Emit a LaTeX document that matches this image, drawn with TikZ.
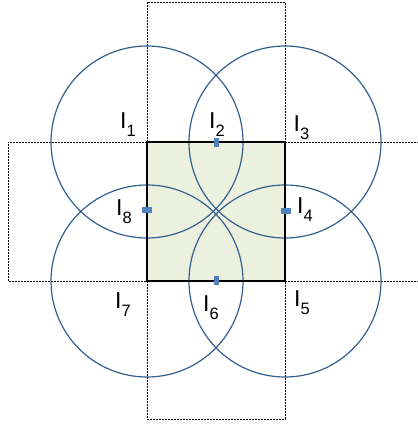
\documentclass[tikz,border=0pt]{standalone}
\usepackage{fontspec}
\setmainfont{Liberation Sans}
\definecolor{circblue}{HTML}{34608F}
\definecolor{markblue}{HTML}{4F81BD}
\definecolor{sqfill}{HTML}{EBF1DE}
\tikzset{
  circ/.style={draw=circblue, line width=1.2pt},
  dashline/.style={draw=black, line width=1pt, dash pattern=on 2pt off 1pt},
  sq/.style={draw=black, line width=1.8pt, fill=sqfill},
  markv/.style={fill=markblue, minimum width=5.5pt, minimum height=9pt, inner sep=0pt, draw=none},
  markh/.style={fill=markblue, minimum width=10pt, minimum height=5.5pt, inner sep=0pt, draw=none},
  lbl/.style={anchor=base west, inner sep=0pt, font=\fontsize{23}{23}\selectfont}
}
\newcommand{\lab}[1]{I\raisebox{-8pt}{\fontsize{16.5}{16.5}\selectfont #1}}
\begin{document}
\begin{tikzpicture}[x=1pt,y=-1pt]
\useasboundingbox (0,0) rectangle (418,424);
\fill[white] (0,0) rectangle (418,424);
% corners of the square
\coordinate (A) at (147,142);
\coordinate (B) at (285,142);
\coordinate (C) at (285,281);
\coordinate (D) at (147,281);
% square
\path[sq] (A) rectangle (C);
% dashed frames
\coordinate (vt1) at (147,2);
\coordinate (vt2) at (285,2);
\coordinate (vb1) at (147,419);
\coordinate (vb2) at (285,419);
\draw[dashline] (A) -- (vt1) -- (vt2) -- (B);
\draw[dashline] (D) -- (vb1) -- (vb2) -- (C);
\coordinate (hl1) at (8,142);
\coordinate (hl2) at (8,281);
\coordinate (hr1) at (418,142);
\coordinate (hr2) at (418,281);
\draw[dashline] (A) -- (hl1) -- (hl2) -- (D);
\draw[dashline] (B) -- (hr1);
\draw[dashline] (C) -- (hr2);
% circles
\draw[circ] (A) circle[radius=96];
\draw[circ] (B) circle[radius=96];
\draw[circ] (C) circle[radius=96];
\draw[circ] (D) circle[radius=96];
% square outline on top
\draw[black, line width=1.8pt] (A) rectangle (C);
% markers
\node[markv] (m2) at (216.5,142) {};
\node[markv] (m6) at (216.5,280) {};
\node[markh] (m8) at (147,210) {};
\node[markh] (m4) at (286,211) {};
% labels
\node[lbl] (l1) at (120,128.5) {\lab{1}};
\node[lbl] (l2) at (209,128) {\lab{2}};
\node[lbl] (l3) at (293.5,131.5) {\lab{3}};
\node[lbl] (l8) at (116,215) {\lab{8}};
\node[lbl] (l4) at (297,213) {\lab{4}};
\node[lbl] (l7) at (115,308) {\lab{7}};
\node[lbl] (l6) at (203,311.5) {\lab{6}};
\node[lbl] (l5) at (294,306.5) {\lab{5}};
\end{tikzpicture}
\end{document}
